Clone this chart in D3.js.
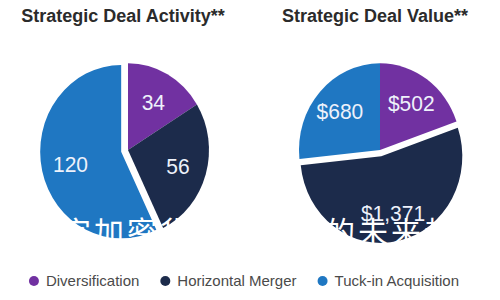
<!DOCTYPE html>
<html>
<head>
<meta charset="utf-8">
<script src="https://cdn.jsdelivr.net/npm/d3@7"></script>
<style>
  body { margin: 0; background: #fff; }
  text { font-family: "Liberation Sans", Arial, Helvetica, sans-serif; }
</style>
</head>
<body>
<div id="chart"></div>
<script>
// data
const categories = ["Diversification", "Horizontal Merger", "Tuck-in Acquisition"];
const dealCounts = [34, 56, 120];
const dealValues = [502, 1371, 680];
const chartTitles = ["Strategic Deal Activity**", "Strategic Deal Value**"];
const watermarkText = "数字加密货币交易所的未来趋势";

const width = 500, height = 300;
const radius = 81;
const stretch = 1.07; // picture is a bit taller than wide

const svg = d3.select("#chart")
    .append("svg")
    .attr("width", width)
    .attr("height", height);

const color = d3.scaleOrdinal()
    .domain(categories)
    .range(["#7131a1", "#1c2b4b", "#1f77c2"]);

// one point per pie so the two charts sit side by side
const xPie = d3.scalePoint()
    .domain(chartTitles)
    .range([128, 380]);

const pie = d3.pie().sort(null).value(d => d.value);
const arc = d3.arc().innerRadius(0).outerRadius(radius);

const pies = [
    { title: chartTitles[0], values: dealCounts, fmt: d3.format("d"), pull: 7, labelR: 52 },
    { title: chartTitles[1], values: dealValues, fmt: v => "$" + d3.format(",")(v), pull: 6, labelR: 54 }
];

pies.forEach(p => {
    const rows = categories.map((c, i) => ({ cat: c, value: p.values[i] }));
    const arcs = pie(rows);
    const biggest = d3.max(rows, d => d.value);
    const labelArc = d3.arc().innerRadius(p.labelR).outerRadius(p.labelR);

    svg.append("text")
        .attr("x", xPie(p.title) - 5)
        .attr("y", 22)
        .attr("text-anchor", "middle")
        .style("font-size", "18px")
        .style("font-weight", "bold")
        .style("fill", "#2b2b2b")
        .text(p.title);

    const g = svg.append("g")
        .attr("transform", `translate(${xPie(p.title)},150) scale(1,${stretch})`);

    // pull the biggest slice out a little
    const shift = d => {
        if (d.data.value !== biggest) return [0, 0];
        const a = (d.startAngle + d.endAngle) / 2;
        return [Math.sin(a) * p.pull, -Math.cos(a) * p.pull];
    };

    const slice = g.selectAll(".slice")
        .data(arcs)
        .enter()
        .append("g")
        .attr("class", "slice")
        .attr("transform", d => `translate(${shift(d)})`);

    slice.append("path")
        .attr("d", arc)
        .attr("fill", d => color(d.data.cat));

    slice.append("text")
        .attr("transform", d => `translate(${labelArc.centroid(d)})`)
        .attr("text-anchor", "middle")
        .attr("dy", "0.36em")
        .style("font-size", "21px")
        .style("fill", "#eef2fb")
        .text(d => p.fmt(d.data.value));
});

// watermark across the bottom of the pies
svg.append("text")
    .attr("x", 28)
    .attr("y", 243)
    .style("font-family", "'Noto Sans CJK SC', sans-serif")
    .style("font-size", "30px")
    .style("letter-spacing", "3px")
    .style("fill", "#fff")
    .text(watermarkText);

// legend, laid out from measured text widths and centred
const legend = svg.append("g");
const items = legend.selectAll(".item")
    .data(categories)
    .enter()
    .append("g")
    .attr("class", "item");

items.append("circle")
    .attr("r", 5)
    .attr("cx", 0)
    .attr("fill", d => color(d));

items.append("text")
    .attr("x", 12)
    .attr("dy", "0.35em")
    .style("font-size", "15px")
    .style("fill", "#4a4a4a")
    .text(d => d);

let pos = 0;
items.each(function() {
    const w = d3.select(this).select("text").node().getComputedTextLength();
    d3.select(this).attr("transform", `translate(${pos},0)`);
    pos += 12 + w + 26;
});
const total = pos - 26 + 5;
legend.attr("transform", `translate(${246 - total / 2 + 3},281)`);
</script>
</body>
</html>
